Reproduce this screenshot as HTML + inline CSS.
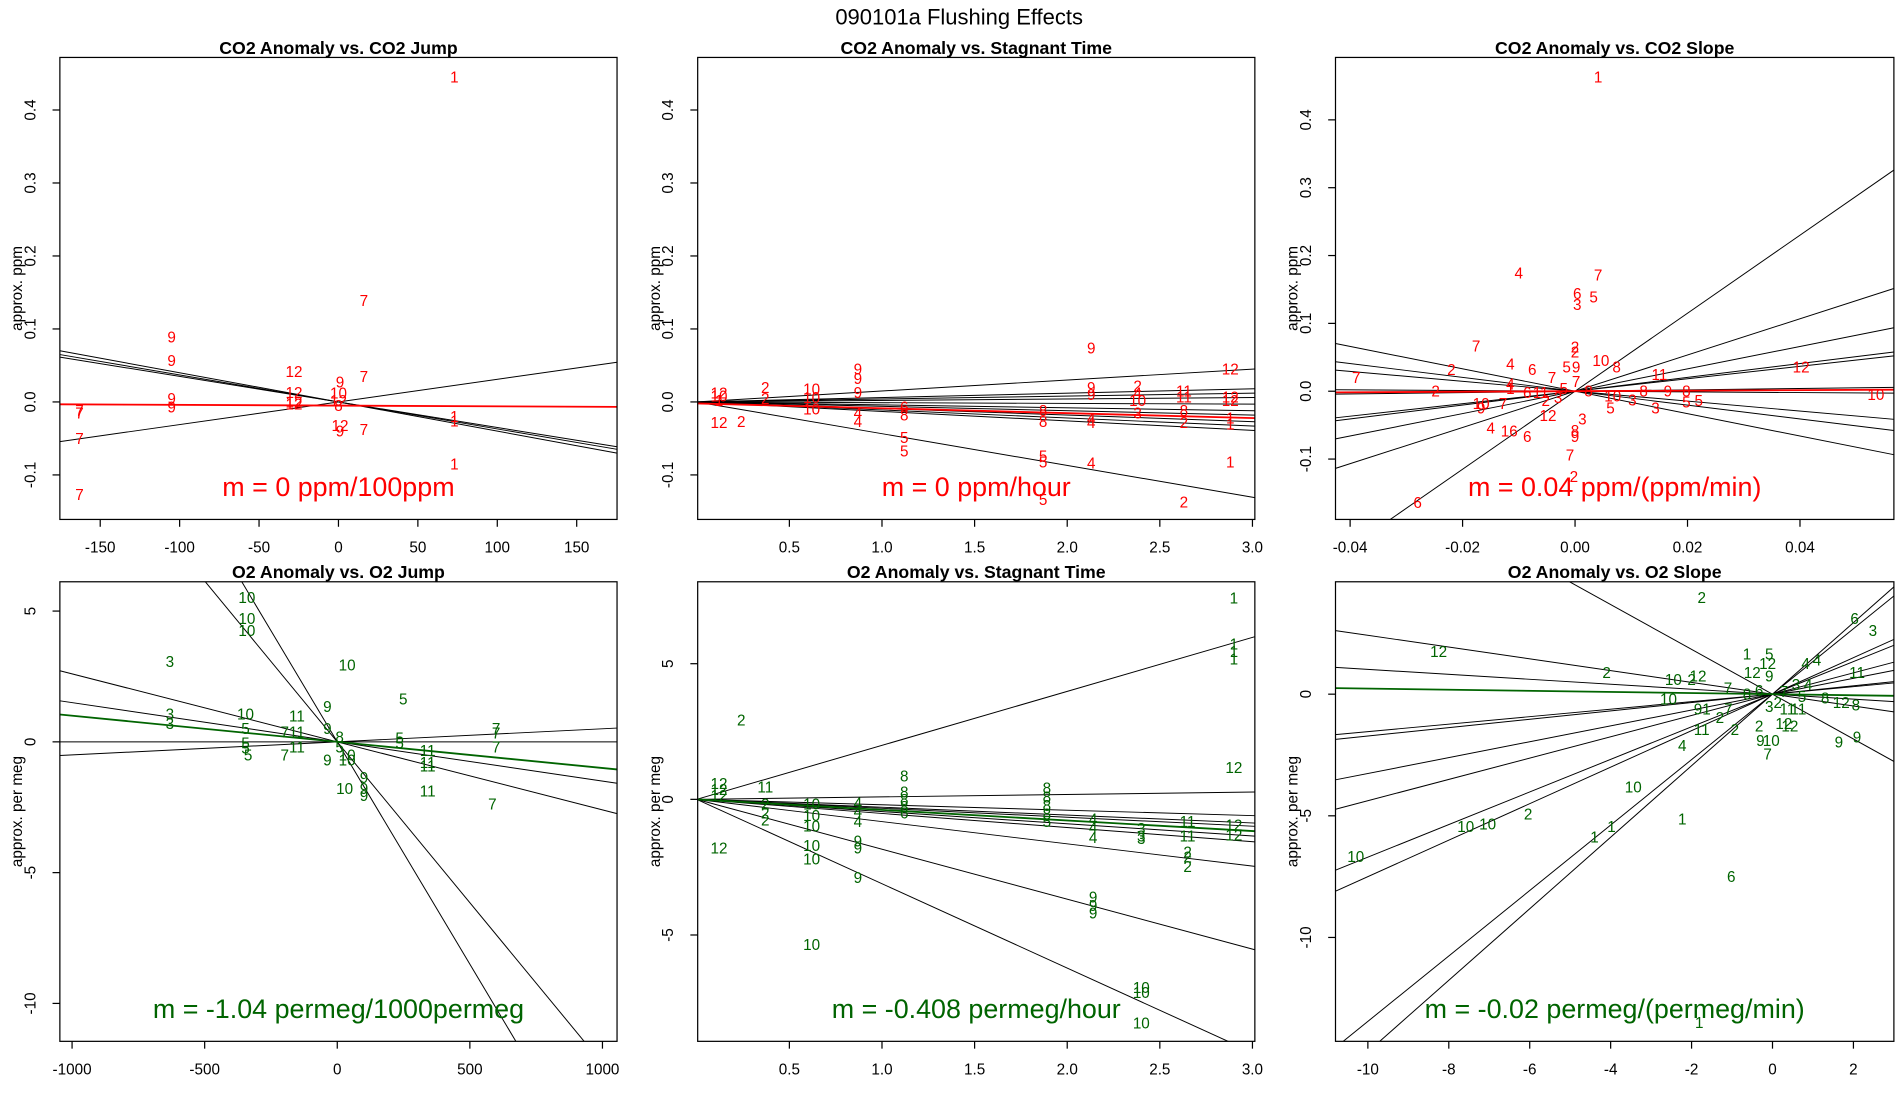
<!DOCTYPE html>
<html><head><meta charset="utf-8"><style>
html,body{margin:0;padding:0;background:#fff;overflow:hidden;width:1900px;height:1100px;}
svg{display:block;font-family:"Liberation Sans",sans-serif;}
</style></head><body>
<svg id="chart" width="1900" height="1100" viewBox="0 0 1555 900" preserveAspectRatio="none" xmlns="http://www.w3.org/2000/svg">
<rect width="1555" height="900" fill="#fff"/>
<text x="785" y="20" font-size="18" text-anchor="middle">090101a   Flushing Effects</text>
</svg>
<script>
// ---- Panel 1: CO2 Anomaly vs. CO2 Jump ----
const p1Labels=["1","7","9","9","12","9","7","12","12","12","9","9","7","7","10","12","8","1","1","12","9","7","7","1","7"];
const p1X=[73,16,-105,-105,-28,1,16,-28,-28,-28,-105,-105,-163,-163,0,0,0,73,73,1,1,16,-163,73,-163];
const p1Y=[0.445,0.139,0.089,0.057,0.042,0.027,0.035,0.013,0.0,-0.003,0.005,-0.007,-0.012,-0.015,0.012,0.002,-0.005,-0.02,-0.026,-0.032,-0.04,-0.038,-0.05,-0.085,-0.127];
const p1Slopes=[-0.00035,-0.00037,-0.0004,0.00031];
const p1Fit=[-0.005,-0.00001];
const p1XTicks=[-150,-100,-50,0,50,100,150];
const p1YTicks=[-0.1,0.0,0.1,0.2,0.3,0.4];
// ---- Panel 2: CO2 Anomaly vs. Stagnant Time ----
const p2Labels=["12","10","1","12","2","2","2","10","10","10","9","9","9","4","4","6","8","5","5","8","8","5","5","5","9","9","9","4","4","4","2","4","10","3","11","11","8","2","2","12","12","12","1","1","1"];
const p2X=[0.12,0.12,0.12,0.12,0.24,0.37,0.37,0.62,0.62,0.62,0.87,0.87,0.87,0.87,0.87,1.12,1.12,1.12,1.12,1.87,1.87,1.87,1.87,1.87,2.13,2.13,2.13,2.13,2.13,2.13,2.38,2.38,2.38,2.38,2.63,2.63,2.63,2.63,2.63,2.88,2.88,2.88,2.88,2.88,2.88];
const p2Y=[0.012,0.008,0.002,-0.028,-0.027,0.02,0.005,0.018,0.006,-0.01,0.045,0.032,0.013,-0.015,-0.027,-0.007,-0.018,-0.049,-0.067,-0.012,-0.027,-0.074,-0.082,-0.134,0.074,0.02,0.01,-0.023,-0.028,-0.084,0.022,0.012,0.002,-0.015,0.015,0.007,-0.012,-0.028,-0.137,0.045,0.007,0.002,-0.022,-0.03,-0.082];
const p2Slopes=[0.015,0.006,0.004,0.002,-0.001,-0.004,-0.006,-0.009,-0.011,-0.013,-0.0435];
const p2Fit=[-0.002,-0.0067];
const p2XTicks=[0.5,1.0,1.5,2.0,2.5,3.0];
const p2YTicks=[-0.1,0.0,0.1,0.2,0.3,0.4];
// ---- Panel 3: CO2 Anomaly vs. CO2 Slope ----
const p3Labels=["1","4","7","6","5","3","7","2","2","4","6","5","9","10","8","11","12","7","2","7","2","10","4","1","6","11","10","9","7","2","12","3","4","16","6","8","9","5","3","3","8","9","8","5","5","7","2","6","5","8","10","7","3"];
const p3X=[0.0041,-0.010,0.0041,0.0004,0.0033,0.0004,-0.0176,0,0,-0.0115,-0.0076,-0.0015,0.0002,0.0046,0.0074,0.015,0.0402,-0.0389,-0.022,-0.0041,-0.0248,0.0535,-0.0115,-0.0115,-0.0085,-0.0061,-0.0167,-0.0167,-0.0128,-0.0052,-0.0048,0.0013,-0.015,-0.0117,-0.0085,0,0,0.0063,0.0102,0.0143,0.0122,0.0165,0.0198,0.022,0.0198,-0.0009,-0.0002,-0.028,-0.002,0.0024,0.0067,0.0002,-0.003];
const p3Y=[0.463,0.174,0.171,0.144,0.139,0.128,0.067,0.065,0.058,0.040,0.032,0.036,0.036,0.045,0.036,0.025,0.036,0.020,0.032,0.020,0,-0.005,0.011,0.004,-0.002,-0.002,-0.018,-0.025,-0.018,-0.014,-0.036,-0.041,-0.054,-0.059,-0.067,-0.058,-0.067,-0.025,-0.013,-0.025,0,0,0,-0.014,-0.016,-0.094,-0.126,-0.164,0.004,0,-0.007,0.014,-0.009];
const p3Slopes=[5.75,2.67,1.65,1.02,0.92,0.1,-0.05,-0.73,-1.02,-1.65];
const p3Fit=[0,0.04];
const p3XTicks=[-0.04,-0.02,0.00,0.02,0.04];
const p3YTicks=[-0.1,0.0,0.1,0.2,0.3,0.4];
// ---- Panel 4: O2 Anomaly vs. O2 Jump ----
const p4Labels=["10","10","10","3","10","5","9","10","11","3","3","5","7","11","11","7","7","7","7","5","5","5","5","5","9","10","10","11","11","11","11","9","9","9","10","7","9","8","5"];
const p4X=[-341,-341,-341,-631,37,249,-37,-346,-152,-631,-631,-346,-198,-152,-152,-198,599,599,599,-346,-346,-336,235,235,-37,37,37,341,341,341,341,101,101,101,28,585,-37,9,9];
const p4Y=[5.51,4.72,4.25,3.08,2.94,1.64,1.36,1.07,0.98,1.07,0.70,0.51,0.37,0.37,-0.19,-0.51,0.51,0.33,-0.19,-0.05,-0.23,-0.51,0.14,-0.05,-0.70,-0.51,-0.70,-0.33,-0.79,-0.93,-1.87,-1.36,-1.78,-2.06,-1.78,-2.38,0.51,0.19,-0.19];
const p4Slopes=[-0.0123,-0.017,-0.0026,-0.0015,0.0005,0];
const p4Fit=[0,-0.001];
const p4XTicks=[-1000,-500,0,500,1000];
const p4YTicks=[-10,-5,0,5];
// ---- Panel 5: O2 Anomaly vs. Stagnant Time ----
const p5Labels=["1","1","1","1","12","12","12","11","11","2","2","2","3","3","3","10","10","10","4","4","4","9","9","9","8","8","8","8","5","8","8","8","8","6","4","4","4","9","9","9","10","10","10","10","10","10","11","2","2","2","12","12","12","12","2"];
const p5X=[2.9,2.9,2.9,2.9,2.9,2.9,2.9,2.65,2.65,2.65,2.65,2.65,2.4,2.4,2.4,2.4,2.4,2.4,2.14,2.14,2.14,2.14,2.14,2.14,1.89,1.89,1.89,1.89,1.89,1.12,1.12,1.12,1.12,1.12,0.87,0.87,0.87,0.87,0.87,0.87,0.62,0.62,0.62,0.62,0.62,0.62,0.37,0.37,0.37,0.37,0.12,0.12,0.12,0.12,0.24];
const p5Y=[7.43,5.72,5.45,5.18,1.17,-0.95,-1.31,-0.81,-1.35,-1.94,-2.12,-2.48,-1.08,-1.35,-1.44,-6.94,-7.12,-8.24,-0.72,-1.04,-1.4,-3.6,-3.92,-4.19,0.41,0.09,-0.23,-0.54,-0.81,0.86,0.27,0,-0.27,-0.5,-0.14,-0.45,-0.81,-1.53,-1.8,-2.88,-0.18,-0.59,-0.99,-1.71,-2.2,-5.36,0.45,-0.18,-0.5,-0.77,0.59,0.36,0.14,-1.8,2.93];
const p5Slopes=[1.99,0.09,-0.2,-0.29,-0.33,-0.45,-0.52,-0.82,-1.84,-3.11];
const p5Fit=[0,-0.39];
const p5XTicks=[0.5,1.0,1.5,2.0,2.5,3.0];
const p5YTicks=[-5,0,5];
// ---- Panel 6: O2 Anomaly vs. O2 Slope ----
const p6Labels=["2","6","3","12","2","10","2","12","1","5","12","12","9","4","4","11","7","10","8","12","8","9","1","7","2","3","11","11","12","12","2","2","11","9","10","7","9","9","4","10","2","10","10","1","1","1","10","6","1","6","7","3","5","8","2","4"];
const p6X=[-1.75,2.03,2.48,-8.25,-4.1,-2.45,-2.0,-1.84,-0.63,-0.08,-0.5,-0.12,-0.08,0.82,1.1,2.09,-1.1,-2.57,1.3,1.7,2.06,-1.84,-1.63,-1.09,-1.3,-0.08,0.37,0.64,0.28,0.43,-0.33,-0.93,-1.75,-0.3,-0.03,-0.12,1.64,2.09,-2.23,-3.44,-6.04,-7.58,-7.04,-2.23,-4.4,-3.98,-10.3,-1.02,-1.81,-0.33,0.28,0.58,0.73,-0.63,0.13,0.88];
const p6Y=[3.97,3.12,2.61,1.76,0.9,0.6,0.6,0.75,1.66,1.66,0.9,1.26,0.75,1.26,1.41,0.9,0.25,-0.2,-0.15,-0.35,-0.45,-0.6,-0.6,-0.6,-0.95,-0.5,-0.6,-0.6,-1.2,-1.3,-1.3,-1.46,-1.46,-1.9,-1.9,-2.46,-1.96,-1.76,-2.11,-3.82,-4.92,-5.43,-5.33,-5.13,-5.88,-5.43,-6.68,-7.49,-13.5,0.15,0.1,0.4,-0.1,0,-0.35,0.4];
const p6Slopes=[-0.921,-0.242,-0.102,0.154,0.172,0.326,0.438,0.67,0.75,1.345,1.47];
const p6Fit=[0,-0.023];
const p6XTicks=[-10,-8,-6,-4,-2,0,2];
const p6YTicks=[-10,-5,0];

const NS="http://www.w3.org/2000/svg";
const svg=document.getElementById('chart');
function mk(tag,attrs,parent){const e=document.createElementNS(NS,tag);for(const k in attrs)e.setAttribute(k,attrs[k]);(parent||svg).appendChild(e);return e;}
function fmt(v,dec){return dec>0?v.toFixed(dec):String(v);}

function panel(cfg){
  const g=mk('g',{});
  
  
  const L=cfg.box[0],T=cfg.box[1],R=cfg.box[2],B=cfg.box[3];
  const sx=v=>L+(v-cfg.xd[0])/(cfg.xd[1]-cfg.xd[0])*(R-L);
  const sy=v=>B-(v-cfg.yd[0])/(cfg.yd[1]-cfg.yd[0])*(B-T);
  const cid='clip-'+cfg.name;
  const cp=mk('clipPath',{id:cid},g);mk('rect',{x:L,y:T,width:R-L,height:B-T},cp);
  const plot=mk('g',{'clip-path':'url(#'+cid+')'},g);
  
  
  cfg.slopes.forEach((m)=>{
    const ln=mk('line',{x1:sx(cfg.xd[0]),y1:sy(m*cfg.xd[0]),x2:sx(cfg.xd[1]),y2:sy(m*cfg.xd[1]),stroke:'#000','stroke-width':0.8},plot);
    
    
  });
  const f=mk('line',{x1:sx(cfg.xd[0]),y1:sy(cfg.fit[0]+cfg.fit[1]*cfg.xd[0]),x2:sx(cfg.xd[1]),y2:sy(cfg.fit[0]+cfg.fit[1]*cfg.xd[1]),stroke:cfg.color,'stroke-width':1.5},plot);
  
  
  cfg.labels.forEach((lb,i)=>{
    const t=mk('text',{x:sx(cfg.xs[i]),y:sy(cfg.ys[i])+4.5,'font-size':12.5,'text-anchor':'middle',fill:cfg.color},plot);
    t.textContent=lb;
    
    
  });
  const fr=mk('rect',{x:L,y:T,width:R-L,height:B-T,fill:'none',stroke:'#000','stroke-width':1},g);
  
  
  cfg.xt.forEach(v=>{
    mk('line',{x1:sx(v),y1:B,x2:sx(v),y2:B+6,stroke:'#000','stroke-width':1},g);
    const t=mk('text',{x:sx(v),y:B+27,'font-size':12.5,'text-anchor':'middle'},g);
    t.textContent=fmt(v,cfg.xdec);
    
    
  });
  cfg.yt.forEach(v=>{
    mk('line',{x1:L-6,y1:sy(v),x2:L,y2:sy(v),stroke:'#000','stroke-width':1},g);
    const t=mk('text',{x:0,y:0,'font-size':12.5,'text-anchor':'middle',transform:'translate('+(L-20)+','+sy(v)+') rotate(-90)'},g);
    t.textContent=fmt(v,cfg.ydec);
    
    
  });
  const yt=mk('text',{x:0,y:0,'font-size':12.5,'text-anchor':'middle',transform:'translate('+(L-31)+','+((T+B)/2)+') rotate(-90)'},g);
  yt.textContent=cfg.ylab;
  
  
  const tt=mk('text',{x:(L+R)/2,y:T-3,'font-size':14.5,'font-weight':'bold','text-anchor':'middle'},g);
  tt.textContent=cfg.title;
  
  
  const an=mk('text',{x:(L+R)/2,y:B-19,'font-size':22,'text-anchor':'middle',fill:cfg.color},g);
  an.textContent=cfg.note;
  
  
}
const RED='#ff0000',GRN='#006400';
panel({name:'panel-co2-jump',box:[49,47,505,425],xd:[-175.4,175.4],yd:[-0.161,0.472],labels:p1Labels,xs:p1X,ys:p1Y,slopes:p1Slopes,fit:p1Fit,xt:p1XTicks,yt:p1YTicks,xdec:0,ydec:1,color:RED,title:'CO2 Anomaly vs. CO2 Jump',ylab:'approx. ppm',note:'m = 0 ppm/100ppm'});
panel({name:'panel-co2-stagnant',box:[571,47,1027,425],xd:[0.005,3.013],yd:[-0.161,0.472],labels:p2Labels,xs:p2X,ys:p2Y,slopes:p2Slopes,fit:p2Fit,xt:p2XTicks,yt:p2YTicks,xdec:1,ydec:1,color:RED,title:'CO2 Anomaly vs. Stagnant Time',ylab:'approx. ppm',note:'m = 0 ppm/hour'});
panel({name:'panel-co2-slope',box:[1093,47,1550,425],xd:[-0.0426,0.0567],yd:[-0.189,0.492],labels:p3Labels,xs:p3X,ys:p3Y,slopes:p3Slopes,fit:p3Fit,xt:p3XTicks,yt:p3YTicks,xdec:2,ydec:1,color:RED,title:'CO2 Anomaly vs. CO2 Slope',ylab:'approx. ppm',note:'m = 0.04 ppm/(ppm/min)'});
panel({name:'panel-o2-jump',box:[49,476,505,852],xd:[-1046,1055],yd:[-11.45,6.12],labels:p4Labels,xs:p4X,ys:p4Y,slopes:p4Slopes,fit:p4Fit,xt:p4XTicks,yt:p4YTicks,xdec:0,ydec:0,color:GRN,title:'O2 Anomaly vs. O2 Jump',ylab:'approx. per meg',note:'m = -1.04 permeg/1000permeg'});
panel({name:'panel-o2-stagnant',box:[571,476,1027,852],xd:[0.005,3.013],yd:[-8.92,8.02],labels:p5Labels,xs:p5X,ys:p5Y,slopes:p5Slopes,fit:p5Fit,xt:p5XTicks,yt:p5YTicks,xdec:1,ydec:0,color:GRN,title:'O2 Anomaly vs. Stagnant Time',ylab:'approx. per meg',note:'m = -0.408 permeg/hour'});
panel({name:'panel-o2-slope',box:[1093,476,1550,852],xd:[-10.8,3.0],yd:[-14.27,4.62],labels:p6Labels,xs:p6X,ys:p6Y,slopes:p6Slopes,fit:p6Fit,xt:p6XTicks,yt:p6YTicks,xdec:0,ydec:0,color:GRN,title:'O2 Anomaly vs. O2 Slope',ylab:'approx. per meg',note:'m = -0.02 permeg/(permeg/min)'});
</script>
</body></html>
